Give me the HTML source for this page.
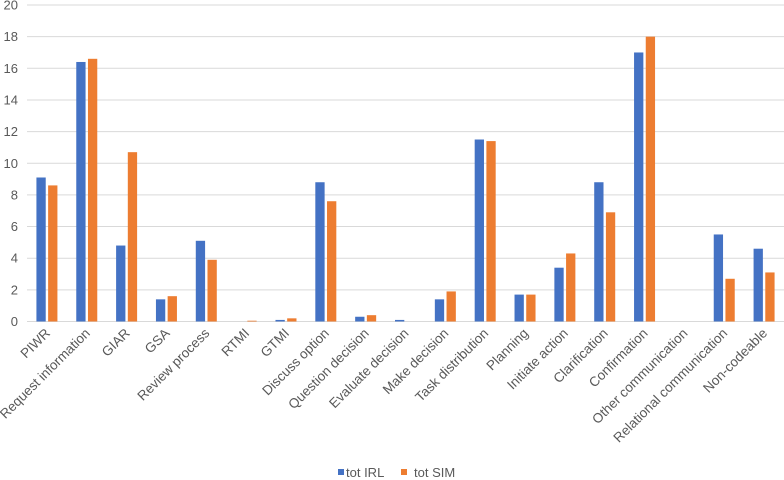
<!DOCTYPE html>
<html><head><meta charset="utf-8"><style>
body{margin:0;background:#fff}
svg{display:block;font-family:"Liberation Sans",sans-serif}
</style></head><body>
<svg id="chart" width="784" height="480" viewBox="0 0 784 480">
<g id="grid"></g><g id="yticks"></g><g id="bars"></g><g id="xlabels"></g>
<g>
<rect x="338" y="469" width="6" height="6" fill="#4472C4"/>
<text x="346" y="477" font-size="13" fill="#595959">tot IRL</text>
<rect x="401" y="469" width="6" height="6" fill="#ED7D31"/>
<text x="414" y="477" font-size="13" fill="#595959">tot SIM</text>
</g>
</svg>
<script>
const categories=["PIWR","Request information","GIAR","GSA","Review process","RTMI","GTMI","Discuss option","Question decision","Evaluate decision","Make decision","Task distribution","Planning","Initiate action","Clarification","Confirmation","Other communication","Relational communication","Non-codeable"];
const irl=[9.1,16.4,4.8,1.4,5.1,0,0.1,8.8,0.3,0.1,1.4,11.5,1.7,3.4,8.8,17,0,5.5,4.6];
const sim=[8.6,16.6,10.7,1.6,3.9,0.05,0.2,7.6,0.4,0,1.9,11.4,1.7,4.3,6.9,18,0,2.7,3.1];
const yTicks=[0,2,4,6,8,10,12,14,16,18,20];
const NS="http://www.w3.org/2000/svg";
const x0=27,x1=784,yTop=5,yBot=321.5,yMax=20;
const bw=(x1-x0)/categories.length;
const y=v=>yBot-(v/yMax)*(yBot-yTop);
const xc=i=>x0+bw*(i+0.5);
function mk(t,a,p){const e=document.createElementNS(NS,t);for(const k in a)e.setAttribute(k,a[k]);p.appendChild(e);return e;}
const grid=document.getElementById('grid'),yt=document.getElementById('yticks'),bars=document.getElementById('bars'),xl=document.getElementById('xlabels');
yTicks.forEach(t=>{
 const l=mk('line',{x1:x0,x2:x1,y1:y(t),y2:y(t),stroke:'#d9d9d9','stroke-width':1},grid);
 
 
 const tx=mk('text',{x:18,y:y(t)+4.5,'text-anchor':'end','font-size':13,fill:'#595959'},yt);
 tx.textContent=t;
 
 
});
const w=9.3,gap=2.4;
categories.forEach((c,i)=>{
 const cx=xc(i);
 const b1=mk('rect',{x:cx-gap/2-w,y:y(irl[i]),width:w,height:yBot-y(irl[i]),fill:'#4472C4'},bars);
 
 
 const b2=mk('rect',{x:cx+gap/2,y:y(sim[i]),width:w,height:yBot-y(sim[i]),fill:'#ED7D31'},bars);
 
 
 const t=mk('text',{x:cx+4,y:334,'text-anchor':'end','font-size':13.5,fill:'#595959',transform:`rotate(-45 ${cx+4} 334)`},xl);
 t.textContent=c;
 
 
});
</script>
</body></html>
